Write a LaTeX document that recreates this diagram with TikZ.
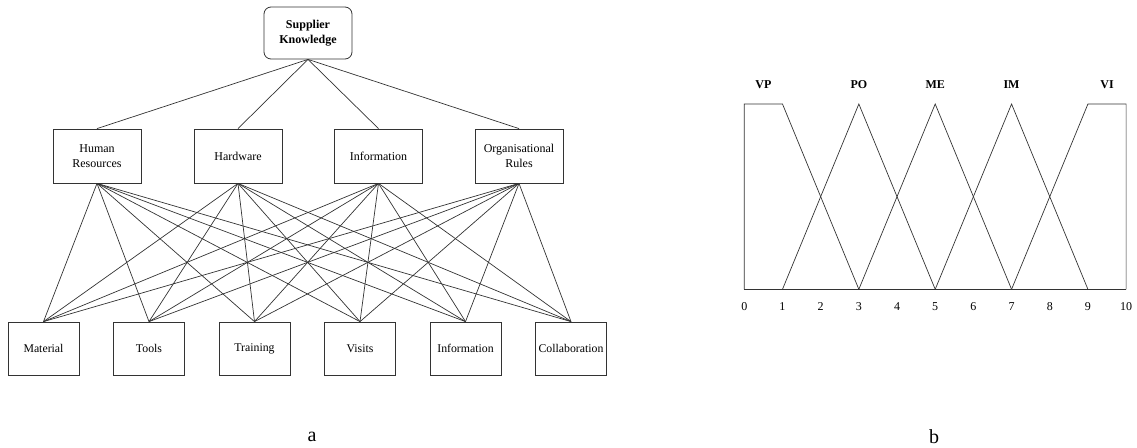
\documentclass[tikz,border=0pt]{standalone}
\usepackage{fontspec}
\setmainfont{Liberation Serif}
\begin{document}
\begin{tikzpicture}[x=1pt,y=-1pt,
  line/.style={draw=black!80,line width=0.7pt},
  topbox/.style={draw=black!80,line width=0.8pt,rounded corners=7pt,minimum width=88pt,minimum height=52pt,align=center,font=\fontsize{12}{15}\selectfont\bfseries,inner sep=0pt},
  midbox/.style={draw=black!80,line width=0.8pt,minimum width=88pt,minimum height=54pt,align=center,font=\fontsize{12}{15.5}\selectfont,inner sep=0pt},
  botbox/.style={draw=black!80,line width=0.8pt,minimum width=71pt,minimum height=53pt,align=center,font=\fontsize{11.8}{14}\selectfont,inner sep=0pt},
  lab/.style={font=\fontsize{12}{14}\selectfont\bfseries,inner sep=0pt},
  ticklab/.style={font=\fontsize{12}{14}\selectfont,inner sep=0pt},
  captxt/.style={font=\fontsize{20}{22}\selectfont,inner sep=0pt}]
\useasboundingbox (0,0) rectangle (1137,447);
% ---- (a) hierarchy ----
\node[topbox] (sk) at (308,33) {Supplier\\Knowledge};
\node[midbox] (hr) at (97,156) {Human\\Resources};
\node[midbox] (hw) at (238,156) {Hardware};
\node[midbox] (inf) at (378.5,156) {Information};
\node[midbox] (org) at (519,156) {Organisational\\Rules};
\node[botbox] (mat) at (43.5,348.5) {Material};
\node[botbox] (too) at (149,348.5) {Tools};
\node[botbox] (tra) at (254.5,348.5) {Training};
\node[botbox] (vis) at (360,348.5) {Visits};
\node[botbox] (inb) at (465.5,348.5) {Information};
\node[botbox] (col) at (571,348.5) {Collaboration};
\foreach \m in {hr,hw,inf,org}{
  \draw[line] (sk.south) -- (\m.north);
  \foreach \b in {mat,too,tra,vis,inb,col}{
    \draw[line] (\m.south) -- (\b.north);
  }
}
\node[captxt] (capa) at (312,437) {a};
% ---- (b) membership functions ----
\begin{scope}[shift={(744.3,289.3)},x=38.18pt,y=185.3pt]
  \draw[line] (0,0) -- (10,0);
  \draw[line] (0,0) -- (0,1) -- (1,1) -- (3,0);
  \draw[line] (1,0) -- (3,1) -- (5,0);
  \draw[line] (3,0) -- (5,1) -- (7,0);
  \draw[line] (5,0) -- (7,1) -- (9,0);
  \draw[line] (7,0) -- (9,1) -- (10,1) -- (10,0);
  \foreach \i in {0,...,10}{
    \node[ticklab] (t\i) at (\i,-0.095) {\i};
  }
  \node[lab] (vp) at (0.5,1.105) {VP};
  \node[lab] (po) at (3,1.105) {PO};
  \node[lab] (me) at (5,1.105) {ME};
  \node[lab] (im) at (7,1.105) {IM};
  \node[lab] (vi) at (9.5,1.105) {VI};
\end{scope}
\node[captxt] (capb) at (934,437) {b};
\end{tikzpicture}
\end{document}
